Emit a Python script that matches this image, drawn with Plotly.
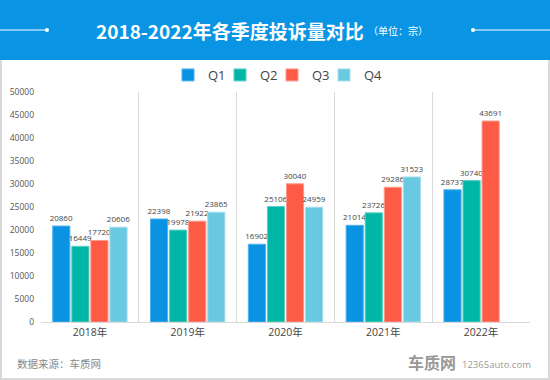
import plotly.graph_objects as go

years = ["2018年", "2019年", "2020年", "2021年", "2022年"]
q1 = [20860, 22398, 16902, 21014, 28737]
q2 = [16449, 19978, 25106, 23726, 30740]
q3 = [17720, 21922, 30040, 29286, 43691]
q4 = [20606, 23865, 24959, 31523, None]
series_names = ["Q1", "Q2", "Q3", "Q4"]
series_values = [q1, q2, q3, q4]
colors = ["#0B93E3", "#00B6A6", "#FE5B47", "#68C9E1"]
outline = ["#4FB3EE", "#5BD0C5", "#FF9A8C", "#A3DEEC"]

W, H = 550, 380
L, R, T, B = 41, 20, 92, 58
PW, PH = W - L - R, H - T - B

def px(x):
    return (x - L) / PW

def py(y):
    return (H - B - y) / PH

FONT = "Open Sans, Noto Sans CJK SC, sans-serif"

fig = go.Figure()
for name, vals, c, oc in zip(series_names, series_values, colors, outline):
    fig.add_trace(go.Bar(
        x=years, y=vals, name=name,
        marker=dict(color=c, line=dict(color=oc, width=1)),
        text=[("" if v is None else str(v)) for v in vals],
        textposition="outside",
        constraintext="none",
        textfont=dict(size=8, color="#444", family=FONT),
        cliponaxis=False,
    ))
# invisible spacer entry so the last legend label is not clipped
fig.add_trace(go.Scatter(x=[None], y=[None], name=" ", mode="markers",
                         marker=dict(color="rgba(0,0,0,0)", size=1, line=dict(width=0)),
                         hoverinfo="skip"))

shapes = [
    dict(type="rect", xref="paper", yref="paper", x0=px(1), x1=px(549), y0=py(379), y1=py(55),
         line=dict(color="#D9D9D9", width=2), fillcolor="rgba(0,0,0,0)", layer="below"),
    dict(type="rect", xref="paper", yref="paper", x0=px(0), x1=px(W), y0=py(60), y1=py(0),
         line=dict(width=0), fillcolor="#0A94E4", layer="below"),
    dict(type="line", xref="paper", yref="paper", x0=px(0), x1=px(47), y0=py(30), y1=py(30),
         line=dict(color="white", width=1)),
    dict(type="line", xref="paper", yref="paper", x0=px(473), x1=px(W), y0=py(30), y1=py(30),
         line=dict(color="white", width=1)),
    dict(type="circle", xref="paper", yref="paper", x0=px(45), x1=px(49), y0=py(32), y1=py(28),
         line=dict(width=0), fillcolor="white"),
    dict(type="circle", xref="paper", yref="paper", x0=px(471), x1=px(475), y0=py(32), y1=py(28),
         line=dict(width=0), fillcolor="white"),
]

annotations = [
    dict(text="<b>2018-2022年各季度投诉量对比</b>", xref="paper", yref="paper", x=px(230), y=py(30),
         xanchor="center", yanchor="middle", showarrow=False,
         font=dict(size=19, color="white", family="Noto Sans CJK SC, sans-serif")),
    dict(text="（单位：宗）", xref="paper", yref="paper", x=px(366), y=py(31),
         xanchor="left", yanchor="middle", showarrow=False,
         font=dict(size=10, color="white", family="Noto Sans CJK SC, sans-serif")),
    dict(text="数据来源：车质网", xref="paper", yref="paper", x=px(15), y=py(363),
         xanchor="left", yanchor="middle", showarrow=False,
         font=dict(size=10.5, color="#888", family="Noto Sans CJK SC, sans-serif")),
    dict(text="<b>车质网</b>", xref="paper", yref="paper", x=px(458), y=py(362),
         xanchor="right", yanchor="middle", showarrow=False,
         font=dict(size=16, color="#999", family="Noto Sans CJK SC, sans-serif")),
    dict(text="12365auto.com", xref="paper", yref="paper", x=px(460), y=py(364),
         xanchor="left", yanchor="middle", showarrow=False,
         font=dict(size=9.5, color="#999", family=FONT)),
]

fig.update_layout(
    width=W, height=H,
    margin=dict(l=L, r=R, t=T, b=B, pad=0, autoexpand=False),
    paper_bgcolor="white", plot_bgcolor="white",
    barmode="group", bargap=0.22, bargroupgap=0.1,
    font=dict(family=FONT, color="#444"),
    showlegend=True,
    legend=dict(orientation="h", x=px(168), y=py(75), xanchor="left", yanchor="middle",
                font=dict(size=13, color="#444", family=FONT),
                itemwidth=30, entrywidth=7, entrywidthmode="pixels",
                bgcolor="rgba(0,0,0,0)"),
    xaxis=dict(type="category", tickson="boundaries", showgrid=True, gridcolor="#D9D9D9",
               gridwidth=1, showline=True, linecolor="#D9D9D9", ticks="",
               tickfont=dict(size=10.5, color="#444"), fixedrange=True),
    yaxis=dict(range=[0, 50000], dtick=5000, tickformat="d", showgrid=False, zeroline=False,
               showline=False, ticks="", tickfont=dict(size=8.5, color="#555"), ticklabelstandoff=6),
    shapes=shapes,
    annotations=annotations,
)

fig.write_html("out.html", config={"displayModeBar": False},
               post_script="document.body.style.margin='0';document.body.style.overflow='hidden';")
